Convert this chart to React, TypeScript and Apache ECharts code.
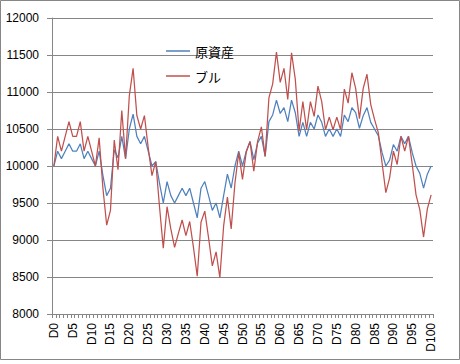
import React, { useEffect, useRef } from "react";
import * as echarts from "echarts";

const categories: string[] = Array.from({ length: 101 }, (_, i) => "D" + i);

const seriesNames = ["原資産", "ブル"];

const underlying: number[] = [
  10000, 10200, 10100, 10200, 10300, 10200, 10200, 10300, 10100, 10200,
  10100, 10000, 10200, 9870, 9600, 9700, 10220, 10110, 10400, 10100,
  10500, 10700, 10400, 10300, 10400, 10200, 10000, 10060, 9770, 9500,
  9790, 9600, 9500, 9600, 9700, 9600, 9700, 9500, 9300, 9700,
  9790, 9600, 9400, 9500, 9300, 9600, 9890, 9700, 10000, 10200,
  10000, 10200, 10330, 10085, 10310, 10400, 10130, 10600, 10690, 10890,
  10710, 10790, 10600, 10890, 10720, 10400, 10590, 10400, 10590, 10500,
  10690, 10590, 10400, 10500, 10400, 10500, 10400, 10690, 10600, 10790,
  10720, 10510, 10680, 10790, 10590, 10500, 10410, 10180, 10000, 10080,
  10290, 10200, 10400, 10300, 10400, 10180, 10000, 9900, 9700, 9890,
  10000,
];

const bull: number[] = [
  10000, 10400, 10200, 10400, 10600, 10400, 10400, 10600, 10200, 10400,
  10200, 10000, 10380, 9700, 9200, 9400, 10350, 9950, 10750, 10100,
  10950, 11320, 10680, 10500, 10680, 10250, 9870, 10060, 9450, 8890,
  9450, 9150, 8900, 9090, 9270, 9060, 9250, 8900, 8510, 9240,
  9390, 9030, 8650, 8840, 8490, 9190, 9580, 9150, 9770, 10180,
  9820, 10190, 10330, 9930, 10330, 10530, 10130, 10920, 11110, 11540,
  11130, 11320, 10900, 11530, 11170, 10470, 10870, 10490, 10870, 10670,
  11080, 10870, 10490, 10660, 10490, 10660, 10490, 11040, 10850, 11260,
  11050, 10640, 11050, 11240, 10830, 10630, 10450, 10040, 9640, 9840,
  10200, 10020, 10400, 10200, 10400, 10020, 9610, 9410, 9040, 9420,
  9610,
];

const yMin = 8000;
const yMax = 12000;
const yStep = 500;

export default function App() {
  const ref = useRef<HTMLDivElement>(null);

  useEffect(() => {
    document.body.style.margin = "0";
    const chart = echarts.init(ref.current!, undefined, { renderer: "svg" });
    const gray = "#868686";
    const font = "'Liberation Sans', Arial, sans-serif";
    chart.setOption({
      animation: false,
      backgroundColor: "#ffffff",
      graphic: [
        {
          type: "rect",
          shape: { x: 0.5, y: 0.5, width: 459, height: 359 },
          style: { fill: "none", stroke: gray, lineWidth: 1 },
          silent: true,
        },
      ],
      grid: { left: 52, right: 27, top: 18, height: 296, containLabel: false },
      legend: {
        orient: "vertical",
        left: 161,
        top: 38,
        icon: "rect",
        itemWidth: 24,
        itemHeight: 1.5,
        itemGap: 9,
        textStyle: {
          fontFamily: "'Noto Sans CJK JP', sans-serif",
          fontSize: 13,
          lineHeight: 16,
          color: "#000",
        },
        data: seriesNames,
      },
      xAxis: {
        type: "category",
        data: categories,
        boundaryGap: true,
        axisLine: { show: true, lineStyle: { color: gray, width: 1 } },
        axisTick: { show: true, interval: 0, length: 4, lineStyle: { color: gray } },
        axisLabel: {
          interval: 4,
          rotate: 90,
          margin: 9,
          fontSize: 12,
          fontFamily: font,
          color: "#000",
        },
        splitLine: { show: false },
      },
      yAxis: {
        type: "value",
        min: yMin,
        max: yMax,
        interval: yStep,
        axisLine: { show: true, lineStyle: { color: gray, width: 1 } },
        axisTick: { show: true, length: 5, lineStyle: { color: gray } },
        axisLabel: {
          margin: 13,
          fontSize: 12,
          fontFamily: font,
          color: "#000",
          formatter: (v: number) => String(v),
        },
        splitLine: { show: true, lineStyle: { color: gray, width: 1 } },
      },
      series: [
        {
          name: seriesNames[0],
          type: "line",
          data: underlying,
          symbol: "none",
          color: "#4F81BD",
          lineStyle: { color: "#4F81BD", width: 1.25 },
        },
        {
          name: seriesNames[1],
          type: "line",
          data: bull,
          symbol: "none",
          color: "#C0504D",
          lineStyle: { color: "#C0504D", width: 1.25 },
        },
      ],
    });
    return () => chart.dispose();
  }, []);

  return <div ref={ref} style={{ width: 460, height: 364 }} />;
}
